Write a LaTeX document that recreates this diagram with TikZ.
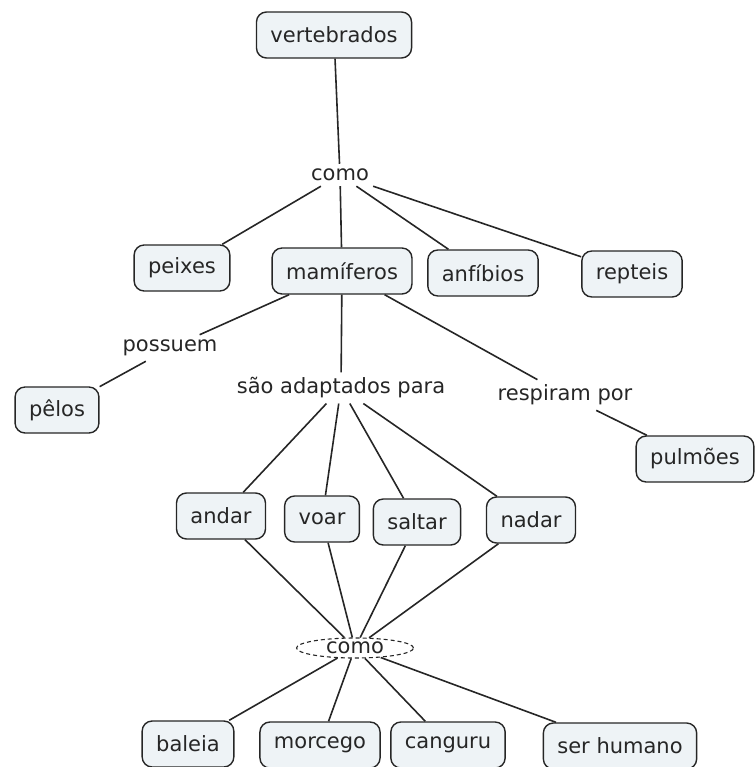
\documentclass[tikz,border=0pt]{standalone}
\usepackage{fontspec}
\setmainfont{DejaVu Sans}
\usetikzlibrary{shapes.geometric}
\definecolor{boxfill}{HTML}{EEF3F6}
\definecolor{ink}{HTML}{262626}
\begin{document}
\begin{tikzpicture}[x=1pt,y=-1pt,
  concept/.style={draw=ink, line width=1.4pt, fill=boxfill, rounded corners=10pt,
    inner xsep=14pt, minimum height=46pt, font=\fontsize{21}{25}\selectfont, text=ink},
  linkword/.style={inner sep=5pt, font=\fontsize{21}{25}\selectfont, text=ink},
  link/.style={draw=ink, line width=1.6pt}]
\useasboundingbox (0,0) rectangle (755,767);

% concepts
\node[concept] (vert) at (334,35) {vertebrados};
\node[concept] (peixes) at (182,268) {peixes};
\node[concept] (mam) at (342,271) {mamíferos};
\node[concept] (anf) at (483,273) {anfíbios};
\node[concept] (rep) at (632,274) {repteis};
\node[concept] (pelos) at (57,410) {pêlos};
\node[concept] (pulm) at (695,459) {pulmões};
\node[concept] (andar) at (221,516) {andar};
\node[concept] (voar) at (322,519) {voar};
\node[concept] (saltar) at (417,522) {saltar};
\node[concept] (nadar) at (531,520) {nadar};
\node[concept] (baleia) at (188,744) {baleia};
\node[concept] (morcego) at (320,745) {morcego};
\node[concept] (canguru) at (448,745) {canguru};
\node[concept] (humano) at (620,746) {ser humano};

% linking phrases
\node[linkword] (como1) at (340,175) {como};
\node[linkword] (possuem) at (170,348) {possuem};
\node[linkword] (adapt) at (341,388) {são adaptados para};
\node[linkword] (resp) at (565,395) {respiram por};
\node[ellipse, draw=ink, line width=1.1pt, dashed, dash pattern=on 4pt off 3pt,
  inner sep=0pt, minimum width=117pt, minimum height=20pt,
  font=\fontsize{21}{25}\selectfont, text=ink] (como2) at (355,648) {como};

% connectors
\draw[link] (vert) -- (como1);
\draw[link] (como1) -- (peixes);
\draw[link] (como1) -- (mam);
\draw[link] (como1) -- (anf);
\draw[link] (como1) -- (rep);
\draw[link] (mam) -- (possuem);
\draw[link] (possuem) -- (pelos);
\draw[link] (mam) -- (adapt);
\draw[link] (mam) -- (resp);
\draw[link] (resp) -- (pulm);
\draw[link] (adapt) -- (andar);
\draw[link] (adapt) -- (voar);
\draw[link] (adapt) -- (saltar);
\draw[link] (adapt) -- (nadar);
\draw[link] (andar) -- (como2);
\draw[link] (voar) -- (como2);
\draw[link] (saltar) -- (como2);
\draw[link] (nadar) -- (como2);
\draw[link] (como2) -- (baleia);
\draw[link] (como2) -- (morcego);
\draw[link] (como2) -- (canguru);
\draw[link] (como2) -- (humano);
\end{tikzpicture}
\end{document}
